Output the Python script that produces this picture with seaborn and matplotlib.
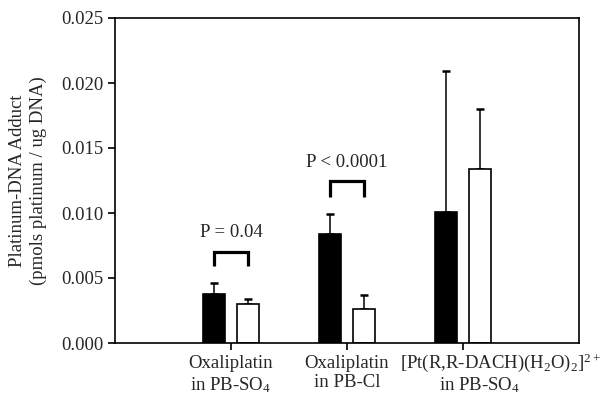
import numpy as np
import pandas as pd
import matplotlib
matplotlib.use("Agg")
import matplotlib.pyplot as plt
import seaborn as sns

# Values
groups = ["Oxaliplatin\nin PB-SO$_4$",
          "Oxaliplatin\nin PB-Cl",
          "[Pt(R,R-DACH)(H$_2$O)$_2$]$^{2+}$\nin PB-SO$_4$"]
conditions = ["filled", "open"]
means_filled = [0.0038, 0.0084, 0.0101]
means_open = [0.0030, 0.0026, 0.0134]
err_filled = [0.0008, 0.0015, 0.0108]
err_open = [0.0004, 0.0011, 0.0046]
p_labels = ["P = 0.04", "P < 0.0001"]
yticks = [0.000, 0.005, 0.010, 0.015, 0.020, 0.025]

df = pd.DataFrame({
    "group": groups * 2,
    "cond": [conditions[0]] * 3 + [conditions[1]] * 3,
    "value": means_filled + means_open,
})

sns.set_style("ticks")
plt.rcParams["font.family"] = ["Liberation Serif", "DejaVu Serif"]
plt.rcParams["mathtext.fontset"] = "custom"
plt.rcParams["mathtext.rm"] = "Liberation Serif"
plt.rcParams["mathtext.it"] = "Liberation Serif:italic"

fig, ax = plt.subplots(figsize=(6, 4.12), dpi=100)
fig.subplots_adjust(left=115/600, right=579/600, top=1-18/412, bottom=1-343/412)

sns.barplot(data=df, x="group", y="value", hue="cond", order=groups,
            hue_order=conditions, palette=["black", "white"], width=0.6,
            gap=0.37, edgecolor="black", linewidth=1.2, legend=False, ax=ax)

# upward-only error bars at bar centres
bars = ax.patches[:6]
xs = [b.get_x() + b.get_width() / 2 for b in bars]
tops = [b.get_height() for b in bars]
errs = err_filled + err_open
ax.errorbar(xs, tops, yerr=[np.zeros(6), errs], fmt="none", ecolor="black",
            elinewidth=1.1, capsize=3.2, capthick=1.8, zorder=1)
for b in bars:
    b.set_zorder(2)

# significance brackets
for i, (lab, h) in enumerate(zip(p_labels, [(0.0059, 0.0070, 0.0085),
                                          (0.0112, 0.0125, 0.0139)])):
    x0, x1 = xs[i], xs[i + 3]
    ax.plot([x0, x0, x1, x1], [h[0], h[1], h[1], h[0]], color="black",
            lw=2.3, solid_joinstyle="miter", solid_capstyle="butt")
    ax.text((x0 + x1) / 2, h[2], lab, ha="center", va="center", fontsize=13.5)

ax.set_xlim(-1, 3)
ax.set_ylim(0, 0.025)
ax.set_yticks(yticks)
ax.set_yticklabels([f"{t:.3f}" for t in yticks])
ax.set_xticks(range(3))
ax.set_xticklabels(groups[:2] + [""])
# third label sits right of its tick in the reference, lines drawn separately
line1, line2 = groups[2].split("\n")
xt = ax.get_xaxis_transform()
ax.text(2.32, -0.077, line1, transform=xt, ha="center", va="baseline",
        fontsize=13.5, clip_on=False)
ax.text(2.14, -0.145, line2, transform=xt, ha="center", va="baseline",
        fontsize=13.5, clip_on=False)

ax.tick_params(labelsize=13.5, width=1.2, length=5, color="black")
for s in ax.spines.values():
    s.set_linewidth(1.2)
    s.set_color("black")
ax.set_xlabel("")
ax.set_ylabel("Platinum-DNA Adduct\n(pmols platinum / ug DNA)", fontsize=13.5,
              linespacing=1.3, labelpad=10)

fig.savefig("out.png", dpi=100)
